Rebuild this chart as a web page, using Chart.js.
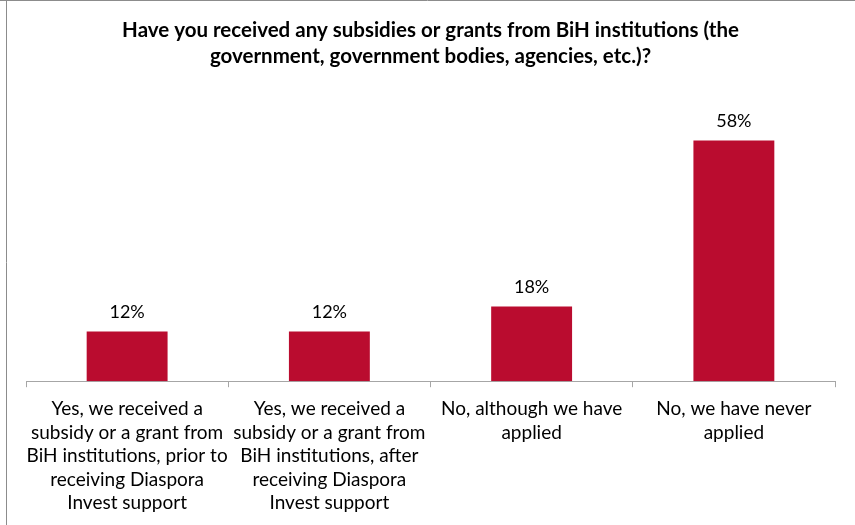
<!DOCTYPE html>
<html>
<head>
<meta charset="utf-8">
<script src="https://cdn.jsdelivr.net/npm/chart.js@4.4.1/dist/chart.umd.min.js"></script>
<style>
  html, body { margin: 0; padding: 0; background: #fff; }
  #wrap { width: 855px; height: 525px; position: relative; }
</style>
</head>
<body>
<div id="wrap"><canvas id="chart" width="855" height="525"></canvas></div>
<script>
const categories = [
  ["Yes, we received a", "subsidy or a grant from", "BiH institutions, prior to", "receiving Diaspora", "Invest support"],
  ["Yes, we received a", "subsidy or a grant from", "BiH institutions, after", "receiving Diaspora", "Invest support"],
  ["No, although we have", "applied"],
  ["No, we have never", "applied"]
];
const percentages = [12, 12, 18, 58];
const titleLines = [
  "Have you received any subsidies or grants from BiH institutions (the",
  "government, government bodies, agencies, etc.)?"
];

const FONT = "Lato, 'Open Sans', sans-serif";

// Value labels above each bar
const valueLabels = {
  id: 'valueLabels',
  afterDatasetsDraw(chart) {
    const ctx = chart.ctx;
    const meta = chart.getDatasetMeta(0);
    ctx.save();
    ctx.font = "18px " + FONT;
    ctx.fillStyle = '#000';
    ctx.textAlign = 'center';
    ctx.textBaseline = 'bottom';
    meta.data.forEach((bar, i) => {
      ctx.fillText(percentages[i] + '%', bar.x, bar.y - 10);
    });
    ctx.restore();
  }
};

// Frame lines along the top and left edges
const frame = {
  id: 'frame',
  afterDraw(chart) {
    const ctx = chart.ctx;
    ctx.save();
    ctx.strokeStyle = '#8c8c8c';
    ctx.lineWidth = 1;
    ctx.beginPath();
    ctx.moveTo(0, 0.5);
    ctx.lineTo(chart.width, 0.5);
    ctx.moveTo(6.5, 0);
    ctx.lineTo(6.5, chart.height);
    ctx.stroke();
    ctx.restore();
  }
};

new Chart(document.getElementById('chart'), {
  type: 'bar',
  data: {
    labels: categories,
    datasets: [{
      data: percentages,
      backgroundColor: '#BA0C2F',
      borderWidth: 0,
      categoryPercentage: 1.0,
      barPercentage: 0.4
    }]
  },
  options: {
    responsive: false,
    animation: false,
    layout: { padding: { left: 26, right: 20, top: 0, bottom: 0 } },
    plugins: {
      legend: { display: false },
      tooltip: { enabled: false },
      title: {
        display: true,
        text: titleLines,
        color: '#000',
        font: { family: FONT, size: 20.5, weight: 'bold', lineHeight: 1.24 },
        padding: { top: 18, bottom: 22 }
      }
    },
    scales: {
      x: {
        grid: {
          display: true,
          offset: true,
          drawOnChartArea: false,
          drawTicks: true,
          tickLength: 6,
          color: '#a6a6a6'
        },
        border: { display: true, color: '#a6a6a6', width: 1 },
        ticks: {
          color: '#000',
          font: { family: FONT, size: 19, lineHeight: 1.24 },
          maxRotation: 0,
          autoSkip: false,
          padding: 10
        }
      },
      y: {
        display: false,
        min: 0,
        max: 70
      }
    }
  },
  plugins: [valueLabels, frame]
});
</script>
</body>
</html>
